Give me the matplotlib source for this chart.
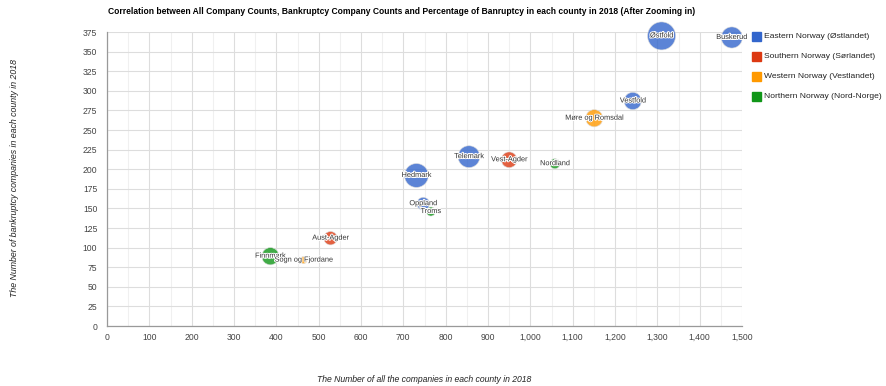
import matplotlib
matplotlib.use('Agg')
from matplotlib import pyplot as plt
from matplotlib.ticker import MultipleLocator, FuncFormatter
import matplotlib.patheffects as pe
import numpy as np

plt.rcParams['font.family'] = ['Liberation Sans', 'DejaVu Sans']

# County data for 2018
counties = ['Østfold', 'Buskerud', 'Vestfold', 'Møre og Romsdal', 'Telemark',
            'Vest-Agder', 'Nordland', 'Hedmark', 'Oppland', 'Troms',
            'Aust-Agder', 'Finnmark', 'Sogn og Fjordane']
all_companies = [1310, 1476, 1242, 1151, 855, 950, 1058, 731, 747, 765, 528, 386, 464]
bankrupt = [370, 368, 287, 265, 216, 212, 207, 192, 156, 146, 112, 89, 84]
regions = ['East', 'East', 'East', 'West', 'East', 'South', 'North', 'East',
           'East', 'North', 'South', 'North', 'West']

region_names = ['East', 'South', 'West', 'North']
region_labels = ['Eastern Norway (Østlandet)', 'Southern Norway (Sørlandet)',
                 'Western Norway (Vestlandet)', 'Northern Norway (Nord-Norge)']
region_colors = ['#3366cc', '#dc3912', '#ff9900', '#109618']

W, H = 886, 386
DPI = 100
fig = plt.figure(figsize=(W / DPI, H / DPI), dpi=DPI)
ax = fig.add_axes([107/W, 60/H, 635/W, 294/H])

pct = np.array(bankrupt) / np.array(all_companies) * 100
# bubble radius in pixels, linear between smallest and largest percentage
rad = 3.5 + (pct - pct.min()) / (pct.max() - pct.min()) * 10.5
sizes = (2 * rad * 72 / DPI) ** 2

cmap = dict(zip(region_names, region_colors))
cols = [cmap[r] for r in regions]

ax.scatter(all_companies, bankrupt, s=sizes, c=cols, alpha=0.8,
           edgecolors='#dddddd', linewidths=0.5, zorder=3, clip_on=False)

for name, x, y in zip(counties, all_companies, bankrupt):
    ax.text(x, y, name, ha='center', va='center', fontsize=5.3, color='#333333',
            zorder=4, clip_on=False,
            path_effects=[pe.withStroke(linewidth=1.4, foreground='white')])

ax.set_xlim(0, 1500)
ax.set_ylim(0, 375)
ax.xaxis.set_major_locator(MultipleLocator(100))
ax.xaxis.set_minor_locator(MultipleLocator(50))
ax.yaxis.set_major_locator(MultipleLocator(25))
ax.xaxis.set_major_formatter(FuncFormatter(lambda v, p: f'{int(v):,}'))
ax.grid(which='major', color='#dddddd', linewidth=0.8, zorder=0)
ax.grid(which='minor', axis='x', color='#f0f0f0', linewidth=0.8, zorder=0)
ax.set_axisbelow(True)
for s in ['top', 'right']:
    ax.spines[s].set_visible(False)
for s in ['left', 'bottom']:
    ax.spines[s].set_color('#999999')
    ax.spines[s].set_linewidth(0.9)
ax.tick_params(which='both', length=0, labelsize=6.2, colors='#444444')
ax.tick_params(axis='y', pad=7)
ax.tick_params(axis='x', pad=5)

fig.text(424/W, 1 - 379/H,
         'The Number of all the companies in each county in 2018',
         fontsize=6.2, style='italic', color='#222222', ha='center', va='center')
fig.text(15/W, 1 - 178/H,
         'The Number of bankruptcy companies in each county in 2018',
         fontsize=6.3, style='italic', color='#222222', ha='center', va='center',
         rotation=90)

fig.text(108/W, 1 - 12/H,
         'Correlation between All Company Counts, Bankruptcy Company Counts and '
         'Percentage of Banruptcy in each county in 2018 (After Zooming in)',
         fontsize=6.15, fontweight='bold', color='#000000', va='center')

# legend
for i, (lab, col) in enumerate(zip(region_labels, region_colors)):
    yy = 1 - (36 + 20.3 * i) / H
    fig.patches.append(plt.Rectangle((752/W, yy - 4.5/H), 9/W, 9/H,
                                     transform=fig.transFigure, color=col))
    fig.text(764/W, yy, lab, fontsize=6.1, color='#222222', va='center')

fig.savefig('out.png', dpi=DPI)
